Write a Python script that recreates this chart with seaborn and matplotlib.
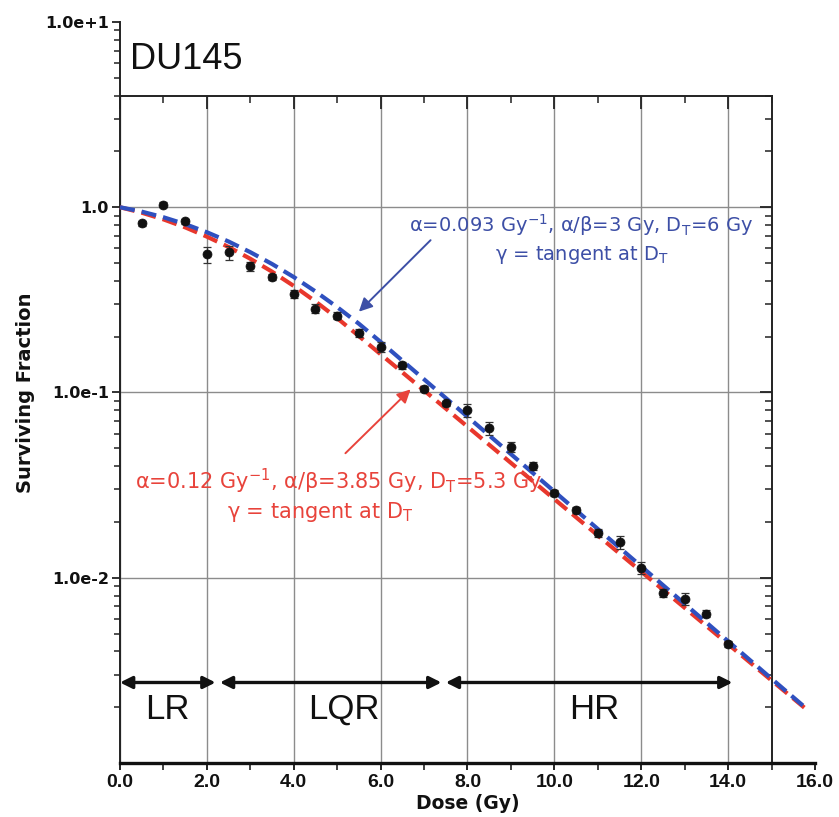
import math
import matplotlib
matplotlib.use("Agg")
import matplotlib.pyplot as plt
import seaborn as sns
import pandas as pd
from matplotlib import font_manager
from matplotlib.ticker import FixedLocator, MultipleLocator, LogLocator, NullFormatter, FixedFormatter

# ---- clonogenic survival data, DU145 ----
dose = [0.5, 1.0, 1.5, 2.0, 2.5, 3.0, 3.5, 4.0, 4.5, 5.0, 5.5, 6.0, 6.5, 7.0,
        7.5, 8.0, 8.5, 9.0, 9.5, 10.0, 10.5, 11.0, 11.5, 12.0, 12.5, 13.0, 13.5, 14.0]
surviving = [0.82, 1.03, 0.84, 0.556, 0.57, 0.48, 0.42, 0.34, 0.284, 0.26, 0.21, 0.177, 0.14, 0.105,
             0.0875, 0.080, 0.064, 0.051, 0.040, 0.0286, 0.0233, 0.0174, 0.0155, 0.0113, 0.0083, 0.0077,
             0.0064, 0.0044]
rel_err = [0.03, 0.03, 0.03, 0.10, 0.09, 0.06, 0.04, 0.05, 0.06, 0.04, 0.05, 0.06, 0.04, 0.03,
           0.03, 0.08, 0.08, 0.06, 0.05, 0.04, 0.04, 0.05, 0.08, 0.07, 0.05, 0.08, 0.04, 0.04]

# ---- LQ-L fitted curves ----
curve_dose = [0, 0.5, 1, 1.5, 2, 2.5, 3, 3.5, 4, 4.5, 5, 5.5, 6, 6.5, 7,
              8, 9, 10, 11, 12, 13, 14, 15, 15.8]
fit_blue = [1.0, 0.947, 0.883, 0.811, 0.733, 0.653, 0.572, 0.494, 0.420, 0.351, 0.289, 0.235,
            0.1875, 0.1486, 0.1178, 0.0740, 0.0465, 0.0292, 0.01833, 0.01152, 0.00723, 0.00454,
            0.00285, 0.00197]
fit_red = [1.0, 0.9345, 0.860, 0.779, 0.694, 0.610, 0.527, 0.449, 0.376, 0.310, 0.252, 0.2016,
           0.1609, 0.1285, 0.1026, 0.0654, 0.04167, 0.02657, 0.01693, 0.01079, 0.00688, 0.00438,
           0.00279, 0.00195]

# ---- dose regions ----
region_labels = ["LR", "LQR", "HR"]
region_start = [0.0, 2.3, 7.5]
region_end = [2.2, 7.4, 14.1]
region_label_x = [1.1, 5.15, 10.92]
region_arrow_y = 0.00272
region_label_y = 0.00194

x_ticks = [0, 2, 4, 6, 8, 10, 12, 14, 16]
y_ticks = [1e-2, 1e-1, 1.0, 10.0]
y_tick_labels = ["1.0e-2", "1.0e-1", "1.0", "1.0e+1"]

BLUE_LINE = "#2f50bf"
BLUE_TEXT = "#3d4fa6"
RED_LINE = "#e8372c"
RED_TEXT = "#e8433b"

sns.set_theme(style="white")


def pick_font(*names):
    available = {f.name for f in font_manager.fontManager.ttflist}
    for name in names:
        if name in available:
            return name
    return "DejaVu Sans"


NARROW = pick_font("Liberation Sans Narrow", "Liberation Sans", "Arial")
plt.rcParams["font.family"] = ["DejaVu Sans"]
plt.rcParams["mathtext.fontset"] = "dejavusans"

fig = plt.figure(figsize=(8.39, 8.17), dpi=100)
fig.patch.set_facecolor("white")

x_max, y_min, y_max = 16.0, 1e-3, 10.0
box_x, box_y = 15.0, 4.0
left, bottom, width, height = 0.1430, 0.0661, 0.8284, 0.9070

# inner framed box with grid (x 0..15, y 1e-3..4)
box_h = height * (math.log10(box_y) - math.log10(y_min)) / (math.log10(y_max) - math.log10(y_min))
box_w = width * box_x / x_max
axb = fig.add_axes([left, bottom, box_w, box_h])
axb.set_yscale("log")
axb.set_xlim(0, box_x)
axb.set_ylim(y_min, box_y)
for side in ["left", "bottom"]:
    axb.spines[side].set_visible(False)
for side in ["top", "right"]:
    axb.spines[side].set_visible(True)
    axb.spines[side].set_color("#222222")
    axb.spines[side].set_linewidth(1.4)
axb.xaxis.set_major_locator(MultipleLocator(2))
axb.xaxis.set_minor_locator(MultipleLocator(1))
axb.yaxis.set_major_locator(LogLocator(base=10))
axb.yaxis.set_minor_locator(LogLocator(base=10, subs=range(2, 10)))
axb.tick_params(which="both", direction="in", top=True, right=True, bottom=False, left=False,
                labeltop=False, labelright=False, labelbottom=False, labelleft=False,
                color="#222222")
axb.tick_params(which="major", length=9, width=1.3)
axb.tick_params(which="minor", length=5, width=1.1)
axb.grid(True, which="major", color="#8c8c8c", linewidth=1.0)
axb.set_facecolor("white")
axb.set_zorder(0)

# main axes holding the data
ax = fig.add_axes([left, bottom, width, height])
ax.set_zorder(1)
ax.patch.set_visible(False)
ax.set_yscale("log")
ax.set_xlim(0, x_max)
ax.set_ylim(y_min, y_max)
ax.spines["top"].set_visible(False)
ax.spines["right"].set_visible(False)
ax.spines["left"].set_color("#222222")
ax.spines["left"].set_linewidth(1.4)
ax.spines["bottom"].set_color("#111111")
ax.spines["bottom"].set_linewidth(2.4)

# fitted curves
curves = pd.DataFrame({"dose": curve_dose, "blue": fit_blue, "red": fit_red})
sns.lineplot(data=curves, x="dose", y="red", ax=ax, color=RED_LINE, lw=3.0,
             linestyle=(0, (3.6, 1.7)), zorder=3, clip_on=False)
sns.lineplot(data=curves, x="dose", y="blue", ax=ax, color=BLUE_LINE, lw=3.0,
             linestyle=(0, (3.6, 1.7)), zorder=3, clip_on=False)

# measured points
points = pd.DataFrame({"dose": dose, "sf": surviving, "err": rel_err})
ax.errorbar(points["dose"], points["sf"], yerr=points["sf"] * points["err"], fmt="none",
            ecolor="#333333", elinewidth=0.9, capsize=3, capthick=0.9, zorder=4)
sns.scatterplot(data=points, x="dose", y="sf", ax=ax, color="#111111", s=42,
                edgecolor="#111111", linewidth=0.5, zorder=5)

# axis ticks and labels
ax.xaxis.set_major_locator(FixedLocator(x_ticks))
ax.xaxis.set_major_formatter(FixedFormatter([f"{v:.1f}" for v in x_ticks]))
ax.xaxis.set_minor_locator(MultipleLocator(1))
ax.yaxis.set_major_locator(FixedLocator(y_ticks))
ax.yaxis.set_major_formatter(FixedFormatter(y_tick_labels))
ax.yaxis.set_minor_locator(LogLocator(base=10, subs=range(2, 10)))
ax.yaxis.set_minor_formatter(NullFormatter())
ax.tick_params(which="both", direction="out", color="#222222", left=True, bottom=True)
ax.tick_params(axis="x", which="major", length=5, width=1.4, pad=3)
ax.tick_params(axis="x", which="minor", length=5, width=1.2)
ax.tick_params(axis="y", which="major", length=6, width=1.3, pad=2)
ax.tick_params(axis="y", which="minor", length=4, width=1.1)
for lab in ax.get_xticklabels():
    lab.set_fontfamily(NARROW)
    lab.set_fontweight("bold")
    lab.set_fontsize(14)
    lab.set_color("#111111")
for lab in ax.get_yticklabels():
    lab.set_fontweight("bold")
    lab.set_fontsize(11.5)
    lab.set_color("#111111")

ax.set_xlabel("Dose (Gy)", fontsize=13.5, fontweight="bold", color="#111111", labelpad=2)
ax.set_ylabel("Surviving Fraction", fontsize=14, fontweight="bold", color="#111111", labelpad=7)

# cell line title
ax.text(0.23, 6.28, "DU145", fontsize=26, family=NARROW, color="#111111", ha="left", va="center")

# fit annotations
ax.text(10.62, 0.80, "α=0.093 Gy$^{-1}$, α/β=3 Gy, D$_{\\mathrm{T}}$=6 Gy", fontsize=14,
        color=BLUE_TEXT, ha="center", va="center")
ax.text(10.63, 0.551, "γ = tangent at D$_{\\mathrm{T}}$", fontsize=14,
        color=BLUE_TEXT, ha="center", va="center")
ax.annotate("", xy=(5.5, 0.273), xytext=(7.15, 0.664),
            arrowprops=dict(arrowstyle="-|>", color=BLUE_TEXT, lw=1.4, mutation_scale=20,
                            shrinkA=0, shrinkB=0), zorder=6)

ax.text(5.03, 0.033, "α=0.12 Gy$^{-1}$, α/β=3.85 Gy, D$_{\\mathrm{T}}$=5.3 Gy", fontsize=15,
        color=RED_TEXT, ha="center", va="center")
ax.text(4.6, 0.0227, "γ = tangent at D$_{\\mathrm{T}}$", fontsize=15,
        color=RED_TEXT, ha="center", va="center")
ax.annotate("", xy=(6.69, 0.104), xytext=(5.19, 0.047),
            arrowprops=dict(arrowstyle="-|>", color=RED_TEXT, lw=1.4, mutation_scale=20,
                            shrinkA=0, shrinkB=0), zorder=6)

# dose regions
for name, x0, x1, xl in zip(region_labels, region_start, region_end, region_label_x):
    ax.annotate("", xy=(x1, region_arrow_y), xytext=(x0, region_arrow_y),
                arrowprops=dict(arrowstyle="<|-|>", color="#111111", lw=2.4, mutation_scale=18,
                                shrinkA=0, shrinkB=0), zorder=6)
    ax.text(xl, region_label_y, name, fontsize=25, family=NARROW, color="#111111",
            ha="center", va="center")

fig.savefig("out.png", dpi=100, facecolor="white")
